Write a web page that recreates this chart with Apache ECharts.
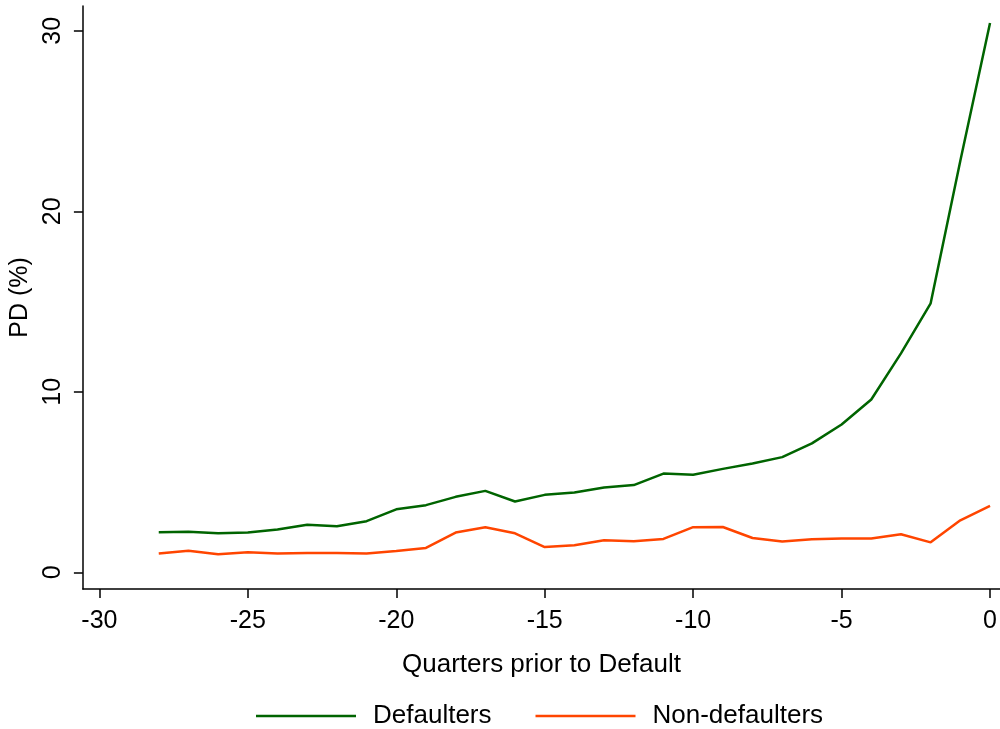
<!DOCTYPE html>
<html>
<head>
<meta charset="utf-8">
<script src="https://cdn.jsdelivr.net/npm/echarts@6/dist/echarts.min.js"></script>
<style>html,body{margin:0;padding:0;background:#fff;}#c{width:1000px;height:729px;}</style>
</head>
<body>
<div id="c"></div>
<script>
const quarters = [-28,-27,-26,-25,-24,-23,-22,-21,-20,-19,-18,-17,-16,-15,-14,-13,-12,-11,-10,-9,-8,-7,-6,-5,-4,-3,-2,-1,0];
const defaulters = [2.22,2.24,2.16,2.2,2.37,2.64,2.55,2.83,3.49,3.72,4.18,4.51,3.92,4.29,4.42,4.70,4.83,5.47,5.40,5.73,6.03,6.38,7.14,8.19,9.57,12.13,14.9,22.8,30.43];
const nonDefaulters = [1.04,1.2,1.0,1.11,1.04,1.07,1.07,1.04,1.18,1.35,2.2,2.5,2.16,1.40,1.50,1.77,1.72,1.85,2.50,2.51,1.90,1.70,1.83,1.87,1.87,2.11,1.66,2.88,3.68];
const xTicks = [-30,-25,-20,-15,-10,-5,0];
const yTicks = [0,10,20,30];

const FONT = 'Liberation Sans, Arial, sans-serif';
const chart = echarts.init(document.getElementById('c'), null, {renderer:'canvas'});
chart.setOption({
  backgroundColor: '#fff',
  animation: false,
  textStyle: {fontFamily: FONT, color: '#000'},
  grid: {left: 82, right: 0, top: 6, bottom: 140, containLabel: false},
  xAxis: {
    type: 'value', min: -30.555, max: 0.336,
    name: 'Quarters prior to Default', nameLocation: 'middle', nameGap: 63,
    nameTextStyle: {fontSize: 26, color: '#000', fontFamily: FONT},
    axisLine: {onZero: false, lineStyle: {color: '#000', width: 1.5}},
    axisTick: {show: true, length: 9, lineStyle: {color: '#000', width: 1.5}, customValues: xTicks},
    axisLabel: {fontSize: 25, color: '#000', margin: 20, fontFamily: FONT, customValues: xTicks},
    splitLine: {show: false}
  },
  yAxis: {
    type: 'value', min: -0.925, max: 31.37,
    name: 'PD (%)', nameLocation: 'middle', nameGap: 43, nameRotate: 90,
    nameTextStyle: {fontSize: 25, color: '#000', fontFamily: FONT},
    axisLine: {show: true, onZero: false, lineStyle: {color: '#000', width: 1.5}},
    axisTick: {show: true, length: 9, lineStyle: {color: '#000', width: 1.5}, customValues: yTicks},
    axisLabel: {fontSize: 25, color: '#000', margin: 17, rotate: 90, fontFamily: FONT, customValues: yTicks},
    splitLine: {show: false}
  },
  legend: {
    left: 251, top: 698, itemWidth: 100, itemHeight: 2.5, itemGap: 44, icon: 'rect',
    textStyle: {fontSize: 26, color: '#000', fontFamily: FONT, padding: [0,0,0,12]},
    data: ['Defaulters', 'Non-defaulters']
  },
  series: [
    {name: 'Defaulters', type: 'line', symbol: 'none', data: quarters.map((q,i)=>[q, defaulters[i]]),
     lineStyle: {color: '#006400', width: 2.5}, itemStyle: {color: '#006400'}},
    {name: 'Non-defaulters', type: 'line', symbol: 'none', data: quarters.map((q,i)=>[q, nonDefaulters[i]]),
     lineStyle: {color: '#ff4500', width: 2.5}, itemStyle: {color: '#ff4500'}}
  ]
});
</script>
</body>
</html>
